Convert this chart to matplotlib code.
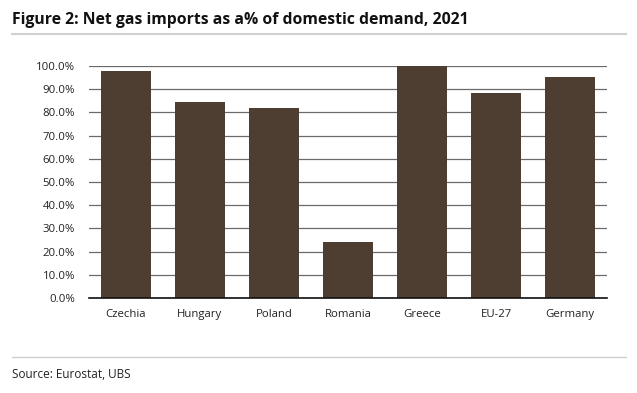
import matplotlib
matplotlib.use("Agg")
import matplotlib.pyplot as plt
from matplotlib.lines import Line2D
from matplotlib.ticker import FuncFormatter

countries = ["Czechia", "Hungary", "Poland", "Romania", "Greece", "EU-27", "Germany"]
import_share = [97.8, 84.4, 82.0, 24.2, 100.0, 88.2, 95.1]
y_ticks = [0, 10, 20, 30, 40, 50, 60, 70, 80, 90, 100]

plt.rcParams['font.family'] = ['Open Sans', 'DejaVu Sans']

fig = plt.figure(figsize=(6.37, 3.93), dpi=100)
W, H = 637, 393

# plot area in pixel coords
left, right, top, bottom = 89, 607, 66, 298
ax = fig.add_axes([left / W, 1 - bottom / H, (right - left) / W, (bottom - top) / H])

x = range(len(countries))
ax.bar(x, import_share, width=0.68, color="#4e3d31", zorder=3)

ax.set_xlim(-0.5, len(countries) - 0.5)
ax.set_ylim(0, 100)
ax.set_yticks(y_ticks)
ax.yaxis.set_major_formatter(FuncFormatter(lambda v, p: f"{v:.1f}%"))
ax.set_xticks(list(x))
ax.set_xticklabels(countries)
ax.grid(axis="y", color="#6a6a6a", linewidth=0.9, zorder=1)
ax.tick_params(axis="both", length=0, labelsize=8.2, colors="#222222")
ax.tick_params(axis="x", pad=8)
ax.tick_params(axis="y", pad=10)
for s in ["top", "right", "left"]:
    ax.spines[s].set_visible(False)
ax.spines["bottom"].set_color("#111111")
ax.spines["bottom"].set_linewidth(1.2)
ax.spines["bottom"].set_zorder(4)

# title and rules
fig.text(12 / W, 1 - 20 / H, "Figure 2: Net gas imports as a% of domestic demand, 2021",
         fontsize=11.3, fontweight="bold", va="center", ha="left", color="#111111")
fig.add_artist(Line2D([12 / W, 626 / W], [1 - 34 / H, 1 - 34 / H], color="#d0d0d0", linewidth=1.5))
fig.add_artist(Line2D([12 / W, 626 / W], [1 - 357 / H, 1 - 357 / H], color="#d0d0d0", linewidth=1.0))
fig.text(12 / W, 1 - 374 / H, "Source: Eurostat, UBS", fontsize=8.5, va="center", ha="left", color="#222222")

fig.savefig("out.png", dpi=100)
